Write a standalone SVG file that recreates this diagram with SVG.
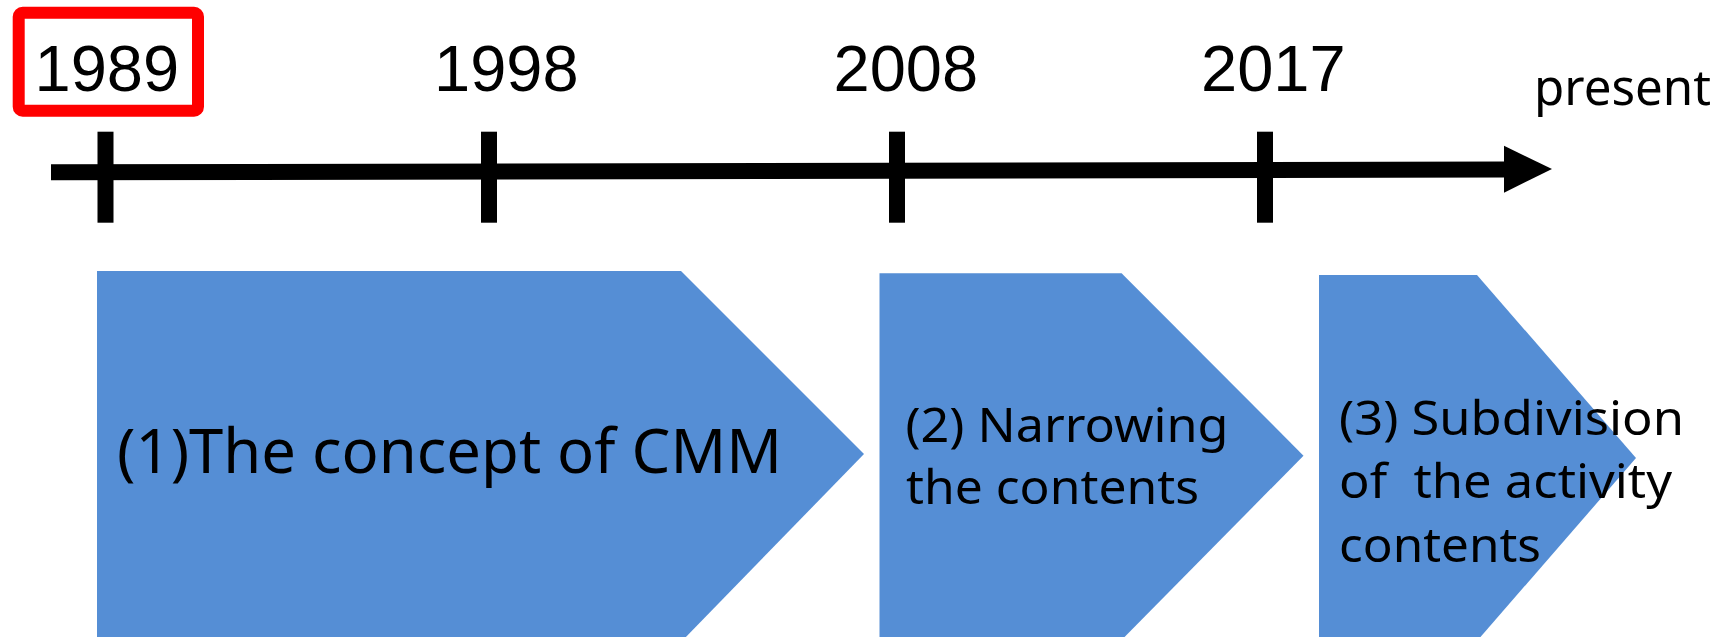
<svg xmlns="http://www.w3.org/2000/svg" width="1729" height="637" viewBox="0 0 1729 637">
<style>
.yr{font-family:"Liberation Sans",Arial,sans-serif;font-size:65px;fill:#000}
.lbl{font-family:"Noto Sans","Open Sans",sans-serif;fill:#000}
.big{font-size:62px}
.mid{font-size:47px}
.box{fill:#558ED5;stroke:none}
.tick{fill:#000}
</style>
<rect width="1729" height="637" fill="#fff"/>
<g id="connectors">
<polygon points="51,164.3 1504,161.5 1504,177.5 51,180.3" fill="#000"/>
<polygon points="1504,145.7 1552,169 1504,192.7" fill="#000"/>
</g>
<g id="tick-1989"><rect class="tick" x="97.5" y="131.7" width="16" height="91"/></g>
<g id="tick-1998"><rect class="tick" x="481" y="131.7" width="16" height="91"/></g>
<g id="tick-2008"><rect class="tick" x="889" y="131.7" width="16" height="91"/></g>
<g id="tick-2017"><rect class="tick" x="1257" y="131.7" width="16" height="91"/></g>
<g id="year-1989">
<rect x="18.7" y="12.7" width="179.3" height="98" rx="4" fill="none" stroke="#FF0000" stroke-width="12"/>
<text class="yr" x="34.5" y="90.7">1989</text>
</g>
<g id="year-1998"><text class="yr" x="434" y="90.7">1998</text></g>
<g id="year-2008"><text class="yr" x="833.5" y="90.7">2008</text></g>
<g id="year-2017"><text class="yr" x="1201" y="90.7">2017</text></g>
<g id="present"><text class="lbl" x="1534" y="105" font-size="48.5" textLength="177" lengthAdjust="spacingAndGlyphs">present</text></g>
<g id="stage1">
<polygon class="box" points="97,271 681,271 864,454 683,640 97,640"/>
<text class="lbl big" x="117" y="472.7" textLength="665" lengthAdjust="spacingAndGlyphs">(1)The concept of CMM</text>
</g>
<g id="stage2">
<polygon class="box" points="879.5,273.3 1121.6,273.3 1303.5,455.7 1121.6,640 879.5,640"/>
<text class="lbl mid" x="905.5" y="441.7" textLength="323" lengthAdjust="spacingAndGlyphs">(2) Narrowing</text>
<text class="lbl mid" x="906" y="504" textLength="293" lengthAdjust="spacingAndGlyphs">the contents</text>
</g>
<g id="stage3">
<polygon class="box" points="1319,275 1477,275 1636,458 1477,641 1319,641"/>
<text class="lbl mid" x="1339" y="435" textLength="345" lengthAdjust="spacingAndGlyphs">(3) Subdivision</text>
<text class="lbl mid" x="1339" y="498.3" textLength="333" lengthAdjust="spacingAndGlyphs" xml:space="preserve">of  the activity</text>
<text class="lbl mid" x="1339" y="561.7" textLength="202" lengthAdjust="spacingAndGlyphs">contents</text>
</g>
</svg>
